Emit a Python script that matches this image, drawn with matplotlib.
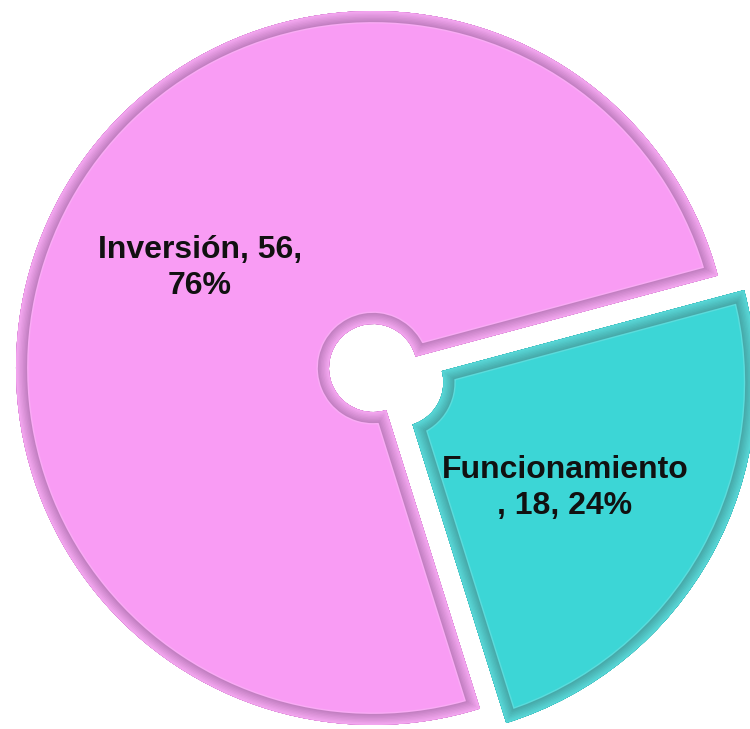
import numpy as np
import matplotlib
matplotlib.use("Agg")
import matplotlib.pyplot as plt
from matplotlib.patches import Wedge
from matplotlib.colors import to_rgb

# data
categories = ["Inversión", "Funcionamiento"]
values = [56, 18]
percents = ["76%", "24%"]
label_texts = ["Inversión, 56,\n76%", "Funcionamiento\n, 18, 24%"]

base_colors = ["#F99CF4", "#3CD6D6"]
dark_colors = ["#A65AA6", "#1E8A8A"]

fig = plt.figure(figsize=(7.5, 7.29), dpi=100)
ax = fig.add_axes([0, 0, 1, 1])

radius = 357
hole = 44
center = (373, 361)

wedges, _ = ax.pie(values, radius=radius, center=center, startangle=15,
                   counterclock=True, explode=[0, 30], colors=base_colors,
                   wedgeprops=dict(width=radius - hole, linewidth=0),
                   frame=True)
ax.set_xlim(0, 750)
ax.set_ylim(0, 729)
ax.set_aspect("equal")
ax.axis("off")


def blend(c1, c2, t):
    a, b = np.array(to_rgb(c1)), np.array(to_rgb(c2))
    return tuple(a * (1 - t) + b * t)


# fake bevel: clipped edge strokes fading from dark rim to base colour
for w, base, dark in zip(wedges, base_colors, dark_colors):
    steps = 8
    for i in range(steps):
        lw = 16 - i * 2
        col = blend(dark, base, i / steps)
        p = Wedge(w.center, w.r, w.theta1, w.theta2, width=w.width,
                  fill=False, edgecolor=col, linewidth=lw)
        ax.add_patch(p)
        p.set_clip_path(w)
    hl = Wedge(w.center, w.r, w.theta1, w.theta2, width=w.width, fill=False,
               edgecolor=blend(base, "white", 0.45), linewidth=18, alpha=0.35)
    ax.add_patch(hl)
    hl.set_clip_path(w)

font = ["Liberation Sans Narrow", "Liberation Sans", "DejaVu Sans"]
ax.text(200, 729 - 268, label_texts[0], ha="center", va="center",
        fontsize=23, fontweight="bold", family=font, color="#111111",
        linespacing=1.3)
ax.text(565, 729 - 488, label_texts[1], ha="center", va="center",
        fontsize=23, fontweight="bold", family=font, color="#111111",
        linespacing=1.3)

fig.savefig("out.png", dpi=100, facecolor="white")
